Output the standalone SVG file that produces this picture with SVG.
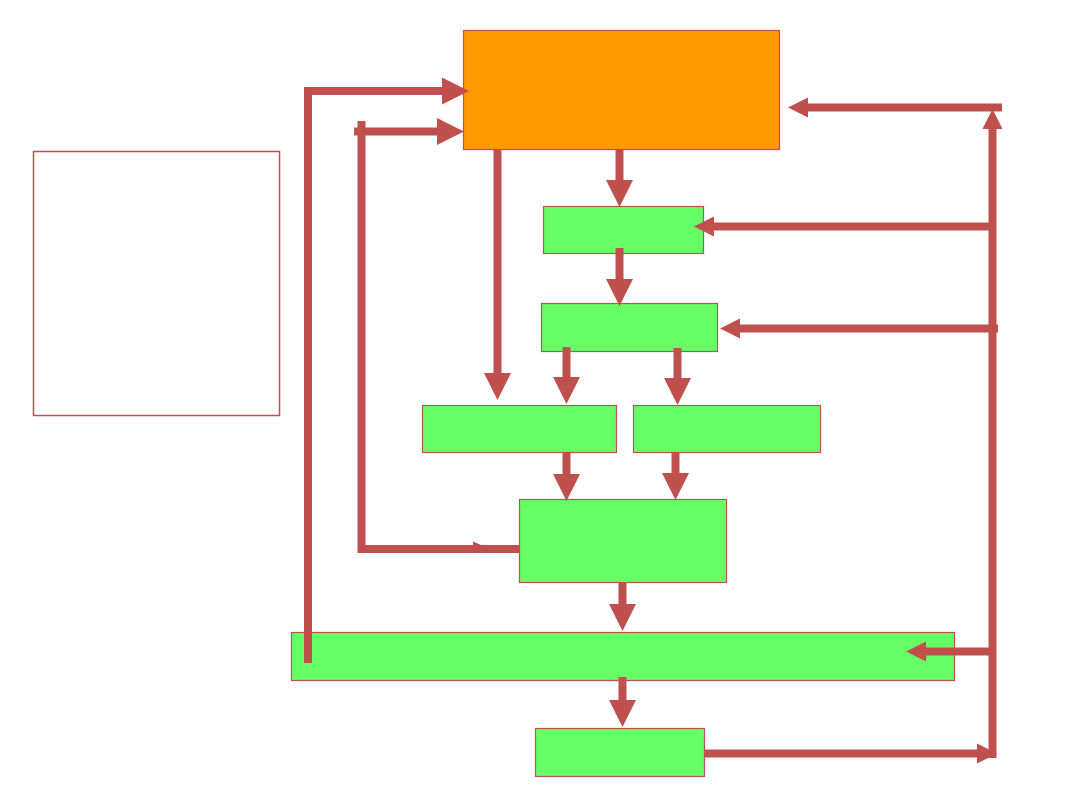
<svg xmlns="http://www.w3.org/2000/svg" width="1080" height="810" viewBox="0 0 1080 810">
  <style>
    .box { stroke: #C0504D; stroke-width: 1.2; }
    .green { fill: #66FF66; }
    .orange { fill: #FF9900; }
    .plain { fill: #FFFFFF; stroke-width: 1.5; }
    .conn { fill: none; stroke: #C0504D; stroke-width: 8; stroke-linejoin: miter; stroke-linecap: butt; }
    .big { marker-end: url(#ahBig); }
    .small { marker-end: url(#ahSmall); }
  </style>
  <defs>
    <marker id="ahBig" markerUnits="userSpaceOnUse" markerWidth="28" markerHeight="28" refX="1" refY="13.5" orient="auto" overflow="visible">
      <path d="M0,0 L27,13.5 L0,27 Z" fill="#C0504D"/>
    </marker>
    <marker id="ahSmall" markerUnits="userSpaceOnUse" markerWidth="21" markerHeight="21" refX="1" refY="10" orient="auto" overflow="visible">
      <path d="M0,0 L20,10 L0,20 Z" fill="#C0504D"/>
    </marker>
  </defs>
  <rect width="1080" height="810" fill="#FFFFFF"/>

  <g id="node-legend"><rect class="box plain" x="33.5" y="151.5" width="246" height="264"/></g>
  <g id="node-top"><rect class="box orange" x="463.5" y="30.5" width="316" height="119"/></g>
  <g id="node-b1"><rect class="box green" x="543.5" y="206.5" width="160" height="47"/></g>
  <g id="node-b2"><rect class="box green" x="541.5" y="303.5" width="176" height="48"/></g>
  <g id="node-b3"><rect class="box green" x="422.5" y="405.5" width="194" height="47"/></g>
  <g id="node-b4"><rect class="box green" x="633.5" y="405.5" width="187" height="47"/></g>
  <g id="node-b5"><rect class="box green" x="519.5" y="499.5" width="207" height="83"/></g>
  <g id="node-b6"><rect class="box green" x="291.5" y="632.5" width="663" height="48"/></g>
  <g id="node-b7"><rect class="box green" x="535.5" y="728.5" width="169" height="48"/></g>

  <g id="connectors">
    <path class="conn big" d="M308,663 V91 H443"/>
    <path class="conn" d="M519,549 H361.5 V121"/>
    <path d="M473,541.5 L481,545 L473,545 Z" fill="#C0504D"/>
    <path class="conn big" d="M354,131.5 H438"/>
    <path class="conn big" d="M497.5,149 V374"/>
    <path class="conn big" d="M619.5,149 V181"/>
    <path class="conn big" d="M619.5,248 V280"/>
    <path class="conn big" d="M566.5,347 V378"/>
    <path class="conn big" d="M677.5,348 V379"/>
    <path class="conn big" d="M566.5,452 V475"/>
    <path class="conn big" d="M675.5,452 V474"/>
    <path class="conn big" d="M622.5,582 V605"/>
    <path class="conn big" d="M622.5,677 V701"/>
    <path class="conn small" d="M704,753.5 H978"/>
    <path class="conn small" d="M992.5,758 V128"/>
    <path class="conn small" d="M1002,107.5 H807"/>
    <path class="conn small" d="M993,226.5 H713"/>
    <path class="conn small" d="M998,328.5 H739"/>
    <path class="conn small" d="M993,651.5 H925"/>
  </g>
</svg>
